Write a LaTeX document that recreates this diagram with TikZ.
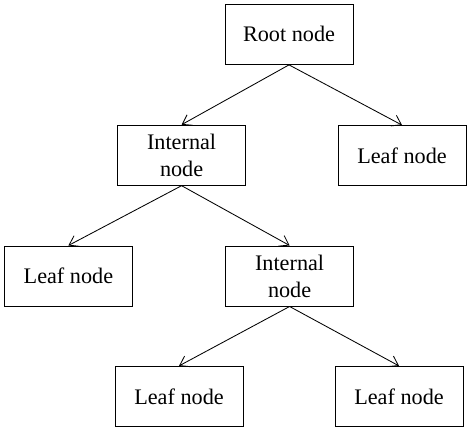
\documentclass[tikz,border=0pt]{standalone}
\usepackage{fontspec}
\setmainfont{Liberation Serif}
\newfontfamily\treefont{Liberation Serif}
\usepackage{tikz}
\usetikzlibrary{arrows.meta, positioning}
\tikzset{
  treebox/.style={
    draw=black, line width=0.7pt, fill=white,
    minimum width=3.2cm, minimum height=1.5cm,
    font=\treefont\fontsize{15.8}{19.2}\selectfont, align=center,
    inner sep=2pt
  },
  treearrow/.style={-{Straight Barb[length=2.2mm, width=3mm]}, line width=0.6pt}
}
\begin{document}
\begin{tikzpicture}
    \useasboundingbox (0,0) rectangle (11.725,10.8);

    \node[treebox] (root) at (7.225,9.94) {Root node};

    \node[treebox] (internalA) at (4.54,6.92) {Internal\\node};
    \node[treebox] (leafA) at (10.05,6.91) {Leaf node};

    \node[treebox] (leafB) at (1.71,3.9) {Leaf node};
    \node[treebox] (internalB) at (7.24,3.9) {Internal\\node};

    \node[treebox] (leafC) at (4.475,0.89) {Leaf node};
    \node[treebox] (leafD) at (9.975,0.89) {Leaf node};

    \draw[treearrow] (root.south) -- (internalA.north);
    \draw[treearrow] (root.south) -- (leafA.north);
    \draw[treearrow] (internalA.south) -- (leafB.north);
    \draw[treearrow] (internalA.south) -- (internalB.north);
    \draw[treearrow] (internalB.south) -- (leafC.north);
    \draw[treearrow] (internalB.south) -- (leafD.north);
  \end{tikzpicture}
\end{document}
